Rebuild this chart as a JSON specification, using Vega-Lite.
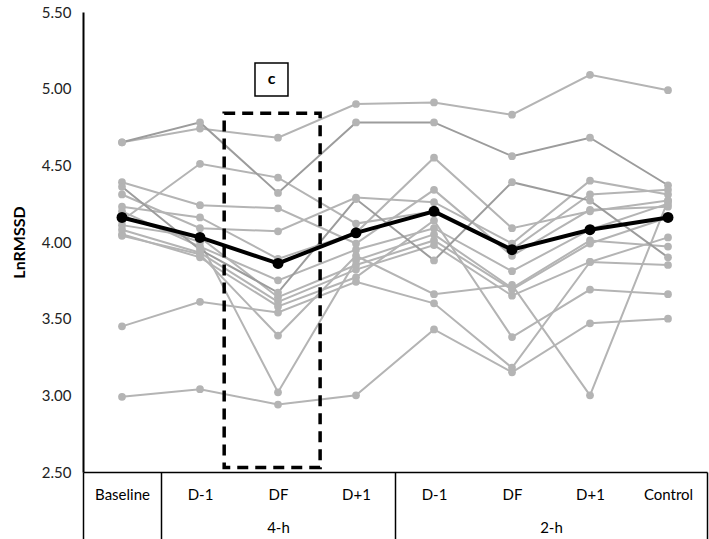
{
  "$schema": "https://vega.github.io/schema/vega-lite/v6.json",
  "width": 624,
  "height": 460,
  "autosize": {"type": "none"},
  "padding": {"left": 83, "top": 12, "right": 2, "bottom": 67},
  "background": "white",
  "config": {
    "view": {"stroke": null},
    "font": "Lato",
    "axis": {"grid": false}
  },
  "datasets": {
    "subjects": [
      {"pid": "P1", "slot": 1, "v": 4.65}, {"pid": "P1", "slot": 2, "v": 4.74}, {"pid": "P1", "slot": 3, "v": 4.68}, {"pid": "P1", "slot": 4, "v": 4.90}, {"pid": "P1", "slot": 5, "v": 4.91}, {"pid": "P1", "slot": 6, "v": 4.83}, {"pid": "P1", "slot": 7, "v": 5.09}, {"pid": "P1", "slot": 8, "v": 4.99},
      {"pid": "P2", "slot": 1, "v": 4.65}, {"pid": "P2", "slot": 2, "v": 4.78}, {"pid": "P2", "slot": 3, "v": 4.32}, {"pid": "P2", "slot": 4, "v": 4.78}, {"pid": "P2", "slot": 5, "v": 4.78}, {"pid": "P2", "slot": 6, "v": 4.56}, {"pid": "P2", "slot": 7, "v": 4.68}, {"pid": "P2", "slot": 8, "v": 4.37},
      {"pid": "P3", "slot": 1, "v": 4.14}, {"pid": "P3", "slot": 2, "v": 4.51}, {"pid": "P3", "slot": 3, "v": 4.42}, {"pid": "P3", "slot": 4, "v": 4.12}, {"pid": "P3", "slot": 5, "v": 4.20}, {"pid": "P3", "slot": 6, "v": 3.95}, {"pid": "P3", "slot": 7, "v": 4.31}, {"pid": "P3", "slot": 8, "v": 4.34},
      {"pid": "P4", "slot": 1, "v": 4.39}, {"pid": "P4", "slot": 2, "v": 4.24}, {"pid": "P4", "slot": 3, "v": 4.22}, {"pid": "P4", "slot": 4, "v": 3.99}, {"pid": "P4", "slot": 5, "v": 4.34}, {"pid": "P4", "slot": 6, "v": 3.91}, {"pid": "P4", "slot": 7, "v": 4.21}, {"pid": "P4", "slot": 8, "v": 4.23},
      {"pid": "P5", "slot": 1, "v": 4.31}, {"pid": "P5", "slot": 2, "v": 4.09}, {"pid": "P5", "slot": 3, "v": 4.07}, {"pid": "P5", "slot": 4, "v": 4.29}, {"pid": "P5", "slot": 5, "v": 4.26}, {"pid": "P5", "slot": 6, "v": 3.99}, {"pid": "P5", "slot": 7, "v": 4.40}, {"pid": "P5", "slot": 8, "v": 4.31},
      {"pid": "P6", "slot": 1, "v": 4.36}, {"pid": "P6", "slot": 2, "v": 3.95}, {"pid": "P6", "slot": 3, "v": 3.67}, {"pid": "P6", "slot": 4, "v": 4.28}, {"pid": "P6", "slot": 5, "v": 3.88}, {"pid": "P6", "slot": 6, "v": 4.39}, {"pid": "P6", "slot": 7, "v": 4.27}, {"pid": "P6", "slot": 8, "v": 3.90},
      {"pid": "P7", "slot": 1, "v": 4.23}, {"pid": "P7", "slot": 2, "v": 4.16}, {"pid": "P7", "slot": 3, "v": 3.89}, {"pid": "P7", "slot": 4, "v": 4.06}, {"pid": "P7", "slot": 5, "v": 4.55}, {"pid": "P7", "slot": 6, "v": 4.09}, {"pid": "P7", "slot": 7, "v": 4.20}, {"pid": "P7", "slot": 8, "v": 4.27},
      {"pid": "P8", "slot": 1, "v": 4.20}, {"pid": "P8", "slot": 2, "v": 3.97}, {"pid": "P8", "slot": 3, "v": 3.75}, {"pid": "P8", "slot": 4, "v": 3.95}, {"pid": "P8", "slot": 5, "v": 4.09}, {"pid": "P8", "slot": 6, "v": 3.81}, {"pid": "P8", "slot": 7, "v": 4.08}, {"pid": "P8", "slot": 8, "v": 4.25},
      {"pid": "P9", "slot": 1, "v": 4.11}, {"pid": "P9", "slot": 2, "v": 4.03}, {"pid": "P9", "slot": 3, "v": 3.64}, {"pid": "P9", "slot": 4, "v": 3.85}, {"pid": "P9", "slot": 5, "v": 4.01}, {"pid": "P9", "slot": 6, "v": 3.69}, {"pid": "P9", "slot": 7, "v": 3.99}, {"pid": "P9", "slot": 8, "v": 4.16},
      {"pid": "P10", "slot": 1, "v": 4.08}, {"pid": "P10", "slot": 2, "v": 3.93}, {"pid": "P10", "slot": 3, "v": 3.61}, {"pid": "P10", "slot": 4, "v": 3.82}, {"pid": "P10", "slot": 5, "v": 3.98}, {"pid": "P10", "slot": 6, "v": 3.65}, {"pid": "P10", "slot": 7, "v": 3.87}, {"pid": "P10", "slot": 8, "v": 4.03},
      {"pid": "P11", "slot": 1, "v": 4.05}, {"pid": "P11", "slot": 2, "v": 3.90}, {"pid": "P11", "slot": 3, "v": 3.58}, {"pid": "P11", "slot": 4, "v": 3.77}, {"pid": "P11", "slot": 5, "v": 4.14}, {"pid": "P11", "slot": 6, "v": 3.38}, {"pid": "P11", "slot": 7, "v": 3.69}, {"pid": "P11", "slot": 8, "v": 3.66},
      {"pid": "P12", "slot": 1, "v": 4.04}, {"pid": "P12", "slot": 2, "v": 3.92}, {"pid": "P12", "slot": 3, "v": 3.39}, {"pid": "P12", "slot": 4, "v": 3.91}, {"pid": "P12", "slot": 5, "v": 3.66}, {"pid": "P12", "slot": 6, "v": 3.72}, {"pid": "P12", "slot": 7, "v": 3.00}, {"pid": "P12", "slot": 8, "v": 4.27},
      {"pid": "P13", "slot": 1, "v": 4.17}, {"pid": "P13", "slot": 2, "v": 4.00}, {"pid": "P13", "slot": 3, "v": 3.02}, {"pid": "P13", "slot": 4, "v": 3.88}, {"pid": "P13", "slot": 5, "v": 4.05}, {"pid": "P13", "slot": 6, "v": 3.70}, {"pid": "P13", "slot": 7, "v": 4.01}, {"pid": "P13", "slot": 8, "v": 3.97},
      {"pid": "P14", "slot": 1, "v": 3.45}, {"pid": "P14", "slot": 2, "v": 3.61}, {"pid": "P14", "slot": 3, "v": 3.54}, {"pid": "P14", "slot": 4, "v": 3.74}, {"pid": "P14", "slot": 5, "v": 3.60}, {"pid": "P14", "slot": 6, "v": 3.18}, {"pid": "P14", "slot": 7, "v": 3.87}, {"pid": "P14", "slot": 8, "v": 3.85},
      {"pid": "P15", "slot": 1, "v": 2.99}, {"pid": "P15", "slot": 2, "v": 3.04}, {"pid": "P15", "slot": 3, "v": 2.94}, {"pid": "P15", "slot": 4, "v": 3.00}, {"pid": "P15", "slot": 5, "v": 3.43}, {"pid": "P15", "slot": 6, "v": 3.15}, {"pid": "P15", "slot": 7, "v": 3.47}, {"pid": "P15", "slot": 8, "v": 3.50}
    ],
    "mean": [
      {"slot": 1, "v": 4.16}, {"slot": 2, "v": 4.03}, {"slot": 3, "v": 3.86}, {"slot": 4, "v": 4.06},
      {"slot": 5, "v": 4.20}, {"slot": 6, "v": 3.95}, {"slot": 7, "v": 4.08}, {"slot": 8, "v": 4.16}
    ]
  },
  "layer": [
    {
      "data": {"name": "subjects"},
      "transform": [{"filter": {"not": {"field": "pid", "oneOf": ["P2", "P6"]}}}],
      "mark": {"type": "line", "color": "#b4b4b4", "strokeWidth": 2},
      "encoding": {
        "x": {
          "field": "slot", "type": "quantitative",
          "scale": {"domain": [0.5, 8.5], "nice": false, "zero": false},
          "axis": {
            "orient": "bottom",
            "values": [1, 2, 3, 4, 5, 6, 7, 8],
            "labelExpr": "['Baseline','D-1','DF','D+1','D-1','DF','D+1','Control'][datum.value - 1]",
            "ticks": false,
            "domain": true,
            "domainColor": "black",
            "domainWidth": 1.5,
            "labelFontSize": 15,
            "labelColor": "black",
            "labelPadding": 15,
            "labelFlush": false,
            "labelOverlap": false,
            "title": null
          }
        },
        "y": {
          "field": "v", "type": "quantitative",
          "scale": {"domain": [2.5, 5.5], "nice": false, "zero": false},
          "axis": {
            "values": [2.5, 3, 3.5, 4, 4.5, 5, 5.5],
            "format": ".2f",
            "ticks": false,
            "tickSize": 0,
            "domainColor": "black",
            "domainWidth": 2,
            "labelFontSize": 15,
            "labelColor": "#222222",
            "labelPadding": 12,
            "title": "LnRMSSD",
            "titleFontSize": 16,
            "titleFontWeight": "bold",
            "titleColor": "black",
            "titlePadding": 14
          }
        },
        "detail": {"field": "pid"}
      }
    },
    {
      "data": {"name": "subjects"},
      "transform": [{"filter": {"field": "pid", "oneOf": ["P2", "P6"]}}],
      "mark": {"type": "line", "color": "#9c9c9c", "strokeWidth": 2},
      "encoding": {
        "x": {"field": "slot", "type": "quantitative", "axis": null},
        "y": {"field": "v", "type": "quantitative"},
        "detail": {"field": "pid"}
      }
    },
    {
      "data": {"name": "subjects"},
      "mark": {"type": "circle", "color": "#b4b4b4", "opacity": 1, "size": 60},
      "encoding": {
        "x": {
          "field": "slot", "type": "quantitative",
          "axis": {
            "orient": "bottom",
            "values": [3, 6.5],
            "labelExpr": "datum.value == 3 ? '4-h' : '2-h'",
            "ticks": false,
            "domain": false,
            "labelFontSize": 15,
            "labelColor": "black",
            "labelPadding": 48,
            "labelFlush": false,
            "title": null
          }
        },
        "y": {"field": "v", "type": "quantitative"}
      }
    },
    {
      "data": {"name": "mean"},
      "mark": {"type": "line", "color": "black", "strokeWidth": 4, "point": {"filled": true, "color": "black", "size": 120}},
      "encoding": {
        "x": {
          "field": "slot", "type": "quantitative",
          "axis": {
            "orient": "bottom",
            "values": [0.5, 1.5, 4.5, 8.5],
            "labels": false,
            "ticks": true,
            "tickSize": 67,
            "tickColor": "black",
            "tickWidth": 1.5,
            "domain": false,
            "title": null
          }
        },
        "y": {"field": "v", "type": "quantitative"}
      }
    },
    {
      "data": {"values": [{}]},
      "mark": {"type": "rect", "fill": "transparent", "stroke": "black", "strokeWidth": 3.5, "strokeDash": [11, 7]},
      "encoding": {
        "x": {"datum": 2.31, "type": "quantitative", "axis": null},
        "x2": {"datum": 3.54},
        "y": {"datum": 2.53, "type": "quantitative"},
        "y2": {"datum": 4.84}
      }
    },
    {
      "data": {"values": [{}]},
      "mark": {"type": "rect", "fill": "white", "stroke": "black", "strokeWidth": 1.5},
      "encoding": {
        "x": {"datum": 2.705, "type": "quantitative", "axis": null},
        "x2": {"datum": 3.128},
        "y": {"datum": 4.952, "type": "quantitative"},
        "y2": {"datum": 5.167}
      }
    },
    {
      "data": {"values": [{"label": "c"}]},
      "mark": {"type": "text", "fontSize": 16, "fontWeight": "bold", "color": "black", "baseline": "middle", "align": "center"},
      "encoding": {
        "x": {"datum": 2.917, "type": "quantitative", "axis": null},
        "y": {"datum": 5.06, "type": "quantitative"},
        "text": {"field": "label"}
      }
    }
  ],
  "resolve": {"axis": {"x": "independent"}}
}
